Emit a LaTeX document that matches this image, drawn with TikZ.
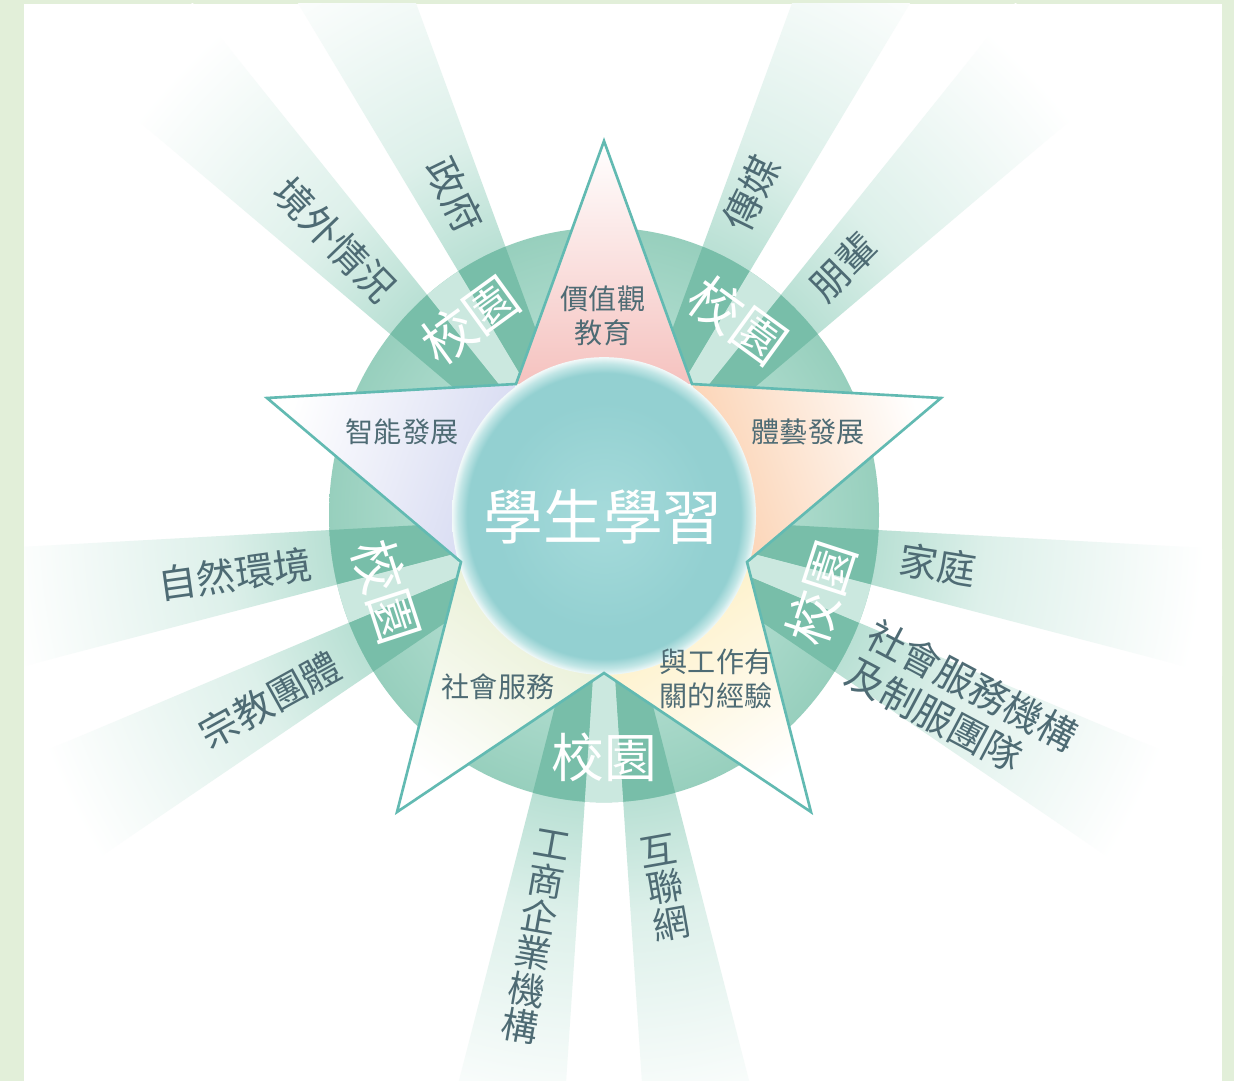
\documentclass[tikz,border=0pt]{standalone}
\usepackage{fontspec}
\newfontfamily\cjk{Noto Sans CJK TC}

\definecolor{panelgreen}{HTML}{E2EFD9}
\definecolor{beamcol}{HTML}{B9E0D4}
\definecolor{beamsoft}{HTML}{DDF0EA}
\definecolor{beamdark}{HTML}{78BEA9}
\definecolor{ringin}{HTML}{B6E0D3}
\definecolor{ringout}{HTML}{97CFBD}
\definecolor{stripecol}{HTML}{CBE8DF}
\definecolor{ballin}{HTML}{A6DBDB}
\definecolor{ballmid}{HTML}{93D0D1}
\definecolor{ballrim}{HTML}{C2E6E6}
\definecolor{ballglow}{HTML}{F2F9F9}
\definecolor{starline}{HTML}{62BAB2}
\definecolor{labelcol}{HTML}{4E6B74}
\definecolor{armtop}{HTML}{F5C2BF}
\definecolor{armright}{HTML}{FBD0AF}
\definecolor{armbr}{HTML}{FDEFC2}
\definecolor{armbl}{HTML}{E6EED0}
\definecolor{armleft}{HTML}{D5D9F1}

\pgfdeclareradialshading{beamfade}{\pgfpoint{0bp}{0bp}}{color(0bp)=(beamcol); color(10.7bp)=(beamcol); color(15bp)=(beamsoft); color(23.5bp)=(white); color(50bp)=(white)}
\pgfdeclareradialshading{ringfade}{\pgfpoint{0bp}{0bp}}{color(0bp)=(ringin); color(13bp)=(ringin); color(25bp)=(ringout); color(50bp)=(ringout)}
\pgfdeclareradialshading{ballfade}{\pgfpoint{0bp}{0bp}}{color(0bp)=(ballin); color(18bp)=(ballmid); color(22.5bp)=(ballmid); color(24bp)=(ballrim); color(25bp)=(ballglow); color(50bp)=(ballglow)}

\begin{document}
\begin{tikzpicture}[x=0.02cm,y=-0.02cm,
    lbl/.style={font=\cjk\fontsize{22}{25}\selectfont,text=labelcol,align=left,inner sep=0pt},
    vlbl/.style={font=\cjk\fontsize{21}{21}\selectfont,text=labelcol,align=center,inner sep=0pt},
    armlbl/.style={font=\cjk\fontsize{16}{19}\selectfont,text=labelcol,align=center,inner sep=0pt},
    campus/.style={font=\cjk\fontsize{30}{30}\selectfont,text=white,inner sep=0pt}]
    \useasboundingbox (0,0) rectangle (1234,1081);
    %% panel
    \fill[panelgreen] (0,0) rectangle (1234,1081);
    \fill[white] (24,4) rectangle (1222,1081);
    \begin{scope}
        \clip (24,4) rectangle (1222,1081);
        %% rays and ring
        \begin{scope}[shift={(604,515)},yscale=-1.045]
            \begin{scope}
                \clip \foreach \g in {126,54,-18,-90,198} {
                    (0,0) -- (\g-15:640) arc[start angle=\g-15,end angle=\g-4,radius=640] -- cycle
                    (0,0) -- (\g+4:640) arc[start angle=\g+4,end angle=\g+15,radius=640] -- cycle};
                \shade[shading=beamfade] (0,0) circle (640);
            \end{scope}
            \shade[shading=ringfade] (0,0) circle (275);
            \begin{scope}
                \clip (0,0) circle (275);
                \fill[beamdark] \foreach \g in {126,54,-18,-90,198} {
                    (0,0) -- (\g-15:300) arc[start angle=\g-15,end angle=\g-4,radius=300] -- cycle
                    (0,0) -- (\g+4:300) arc[start angle=\g+4,end angle=\g+15,radius=300] -- cycle};
                \fill[stripecol] \foreach \g in {126,54,-18,-90,198} {
                    (0,0) -- (\g-4:300) arc[start angle=\g-4,end angle=\g+4,radius=300] -- cycle};
            \end{scope}
        \end{scope}
    \end{scope}
    %% star
    \coordinate (tipT) at (604,141);
    \coordinate (tipR) at (941,398);
    \coordinate (tipBR) at (811,812);
    \coordinate (tipBL) at (397,812);
    \coordinate (tipL) at (267,398);
    \coordinate (inUR) at (692,384);
    \coordinate (inR) at (747,562);
    \coordinate (inB) at (604,673);
    \coordinate (inL) at (461,562);
    \coordinate (inUL) at (516,384);
    \fill[white] (tipT) -- (inUR) -- (tipR) -- (inR) -- (tipBR) -- (inB) -- (tipBL) -- (inL) -- (tipL) -- (inUL) -- cycle;
    \shade[top color=white,bottom color=armtop] (inUL) -- (tipT) -- (inUR) -- cycle;
    \shade[top color=white,bottom color=armright,shading angle=-71] (inUR) -- (tipR) -- (inR) -- cycle;
    \shade[top color=white,bottom color=armbr,shading angle=-145] (inR) -- (tipBR) -- (inB) -- cycle;
    \shade[top color=white,bottom color=armbl,shading angle=145] (inB) -- (tipBL) -- (inL) -- cycle;
    \shade[top color=white,bottom color=armleft,shading angle=71] (inL) -- (tipL) -- (inUL) -- cycle;
    %% centre
    \begin{scope}[shift={(604,516)},yscale=-1.045]
        \shade[shading=ballfade] (0,0) circle (152);
    \end{scope}
    \draw[starline,line width=1.5pt] (tipT) -- (inUR) -- (tipR) -- (inR) -- (tipBR) -- (inB) -- (tipBL) -- (inL) -- (tipL) -- (inUL) -- cycle;
    \node[font=\cjk\fontsize{34}{34}\selectfont,text=white,inner sep=0pt] (learning) at (603,517) {學生學習};
    %% star labels
    \node[armlbl] (values) at (603,316) {價值觀\\教育};
    \node[armlbl] (intellect) at (402,432) {智能發展};
    \node[armlbl] (physical) at (808,432) {體藝發展};
    \node[armlbl] (service) at (498,687) {社會服務};
    \node[armlbl] (work) at (716,679) {與工作有\\關的經驗};
    %% campus
    \node[campus,rotate=36] (campusUL) at (470,320) {校園};
    \node[campus,rotate=-36] (campusUR) at (738,320) {校園};
    \node[campus,rotate=72] (campusR) at (821,593) {校園};
    \node[campus] (campusB) at (604,757) {校園};
    \node[campus,rotate=-72] (campusL) at (387,591) {校園};
    %% ray labels
    \node[lbl,rotate=-46] (abroad) at (335,240) {境外情況};
    \node[lbl,rotate=-64] (govt) at (455,195) {政府};
    \node[lbl,rotate=64] (media) at (751,193) {傳媒};
    \node[lbl,rotate=45] (peers) at (843,267) {朋輩};
    \node[lbl,rotate=-9] (family) at (938,565) {家庭};
    \node[lbl,rotate=-28] (socialorg) at (962,705) {社會服務機構\\及制服團隊};
    \node[vlbl,rotate=10] (internet) at (665,888) {互\\聯\\網};
    \node[vlbl,rotate=-10] (business) at (536,937) {工\\商\\企\\業\\機\\構};
    \node[lbl,rotate=29] (religion) at (270,700) {宗教團體};
    \node[lbl,rotate=8] (nature) at (235,574) {自然環境};
\end{tikzpicture}
\end{document}
